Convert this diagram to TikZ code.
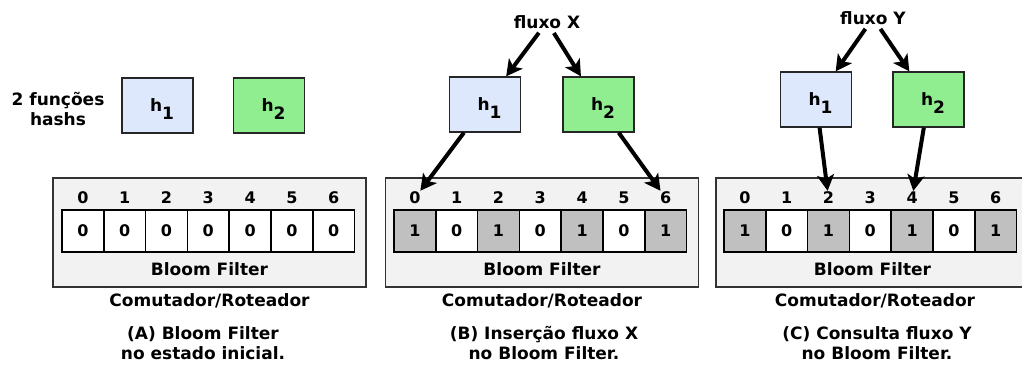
\documentclass[tikz,border=0pt]{standalone}
\usepackage{fontspec}
\setmainfont{DejaVu Sans}
\usetikzlibrary{arrows.meta,positioning,calc}
\definecolor{hashone}{RGB}{222,232,252}
\definecolor{hashtwo}{RGB}{144,238,144}
\definecolor{bitset}{RGB}{192,192,192}
\definecolor{routerbg}{RGB}{242,242,242}

\newcommand{\hname}[1]{\hspace{9pt}\raisebox{-6pt}[0pt][0pt]{h\raisebox{-8pt}{#1}}}

\begin{document}
\begin{tikzpicture}[x=1pt, y=-1pt,
    txt/.style={font=\fontsize{17}{20}\selectfont\bfseries, inner sep=0pt, align=center},
    router/.style={rectangle, draw=black!80, fill=routerbg, line width=1.3pt,
                   minimum width=313pt, minimum height=109pt, inner sep=0pt},
    cell/.style={rectangle, draw=black, fill=white, line width=1.5pt,
                 minimum width=41.8pt, minimum height=42pt, inner sep=0pt,
                 font=\fontsize{16}{16}\selectfont\bfseries},
    setcell/.style={cell, fill=bitset},
    idx/.style={inner sep=1pt, font=\fontsize{16}{16}\selectfont\bfseries},
    hashbox/.style={rectangle, draw=black!85, line width=1.3pt,
                    minimum width=71pt, minimum height=55pt, inner sep=0pt,
                    font=\fontsize{17}{17}\selectfont\bfseries},
    flow/.style={-{Stealth[length=16pt, width=17pt, inset=4pt]}, line width=4pt}
]
    \useasboundingbox (0,0) rectangle (1022,365);
    \clip (0,0) rectangle (1022,365);

    % (A) initial state
    \node[txt] (funcs) at (58,109) {2 funções\\hashs};
    \node[hashbox, fill=hashone] (A-h1) at (157.5,105.5) {\hname{1}};
    \node[hashbox, fill=hashtwo] (A-h2) at (269,105.5) {\hname{2}};
    \node[router] (A-sw) at (209.5,232.5) {};
    \foreach \i in {0,...,6} {
        \node[idx] (A-i\i) at ({82.9+41.8*\i},198) {\i};
        \node[cell] (A-c\i) at ({82.9+41.8*\i},231) {0};
    }
    \node[txt] (A-bf) at (209.5,269) {Bloom Filter};
    \node[txt] (A-rt) at (209.5,301) {Comutador/Roteador};
    \node[txt] (A-cap) at (203,343) {(A) Bloom Filter\\no estado inicial.};

    % (B) insertion of flow X
    \node[txt] (fluxX) at (547,22) {fluxo X};
    \node[hashbox, fill=hashone] (B-h1) at (485,104.5) {\hname{1}};
    \node[hashbox, fill=hashtwo] (B-h2) at (598.5,104.5) {\hname{2}};
    \node[router] (B-sw) at (542,232.5) {};
    \foreach \i/\b/\s in {0/1/setcell,1/0/cell,2/1/setcell,3/0/cell,4/1/setcell,5/0/cell,6/1/setcell} {
        \node[idx] (B-i\i) at ({414.9+41.8*\i},198) {\i};
        \node[\s] (B-c\i) at ({414.9+41.8*\i},231) {\b};
    }
    \node[txt] (B-bf) at (542,269) {Bloom Filter};
    \node[txt] (B-rt) at (542,301) {Comutador/Roteador};
    \node[txt] (B-cap) at (544,343) {(B) Inserção fluxo X\\no Bloom Filter.};

    \draw[flow, shorten <=5pt] (fluxX) -- (B-h1);
    \draw[flow, shorten <=5pt] (fluxX) -- (B-h2);
    \draw[flow] (B-h1) -- (B-i0);
    \draw[flow] (B-h2) -- (B-i6);

    % (C) query of flow Y
    \node[txt] (fluxY) at (873,18) {fluxo Y};
    \node[hashbox, fill=hashone] (C-h1) at (816,99.5) {\hname{1}};
    \node[hashbox, fill=hashtwo] (C-h2) at (928.5,99.5) {\hname{2}};
    \node[router] (C-sw) at (872.5,232.5) {};
    \foreach \i/\b/\s in {0/1/setcell,1/0/cell,2/1/setcell,3/0/cell,4/1/setcell,5/0/cell,6/1/setcell} {
        \node[idx] (C-i\i) at ({744.9+41.8*\i},198) {\i};
        \node[\s] (C-c\i) at ({744.9+41.8*\i},231) {\b};
    }
    \node[txt] (C-bf) at (872.5,269) {Bloom Filter};
    \node[txt] (C-rt) at (875,301) {Comutador/Roteador};
    \node[txt] (C-cap) at (877,343) {(C) Consulta fluxo Y\\no Bloom Filter.};

    \draw[flow, shorten <=5pt] (fluxY) -- (C-h1);
    \draw[flow, shorten <=5pt] (fluxY) -- (C-h2);
    \draw[flow] (C-h1) -- (C-i2);
    \draw[flow] (C-h2) -- (C-i4);
\end{tikzpicture}
\end{document}
